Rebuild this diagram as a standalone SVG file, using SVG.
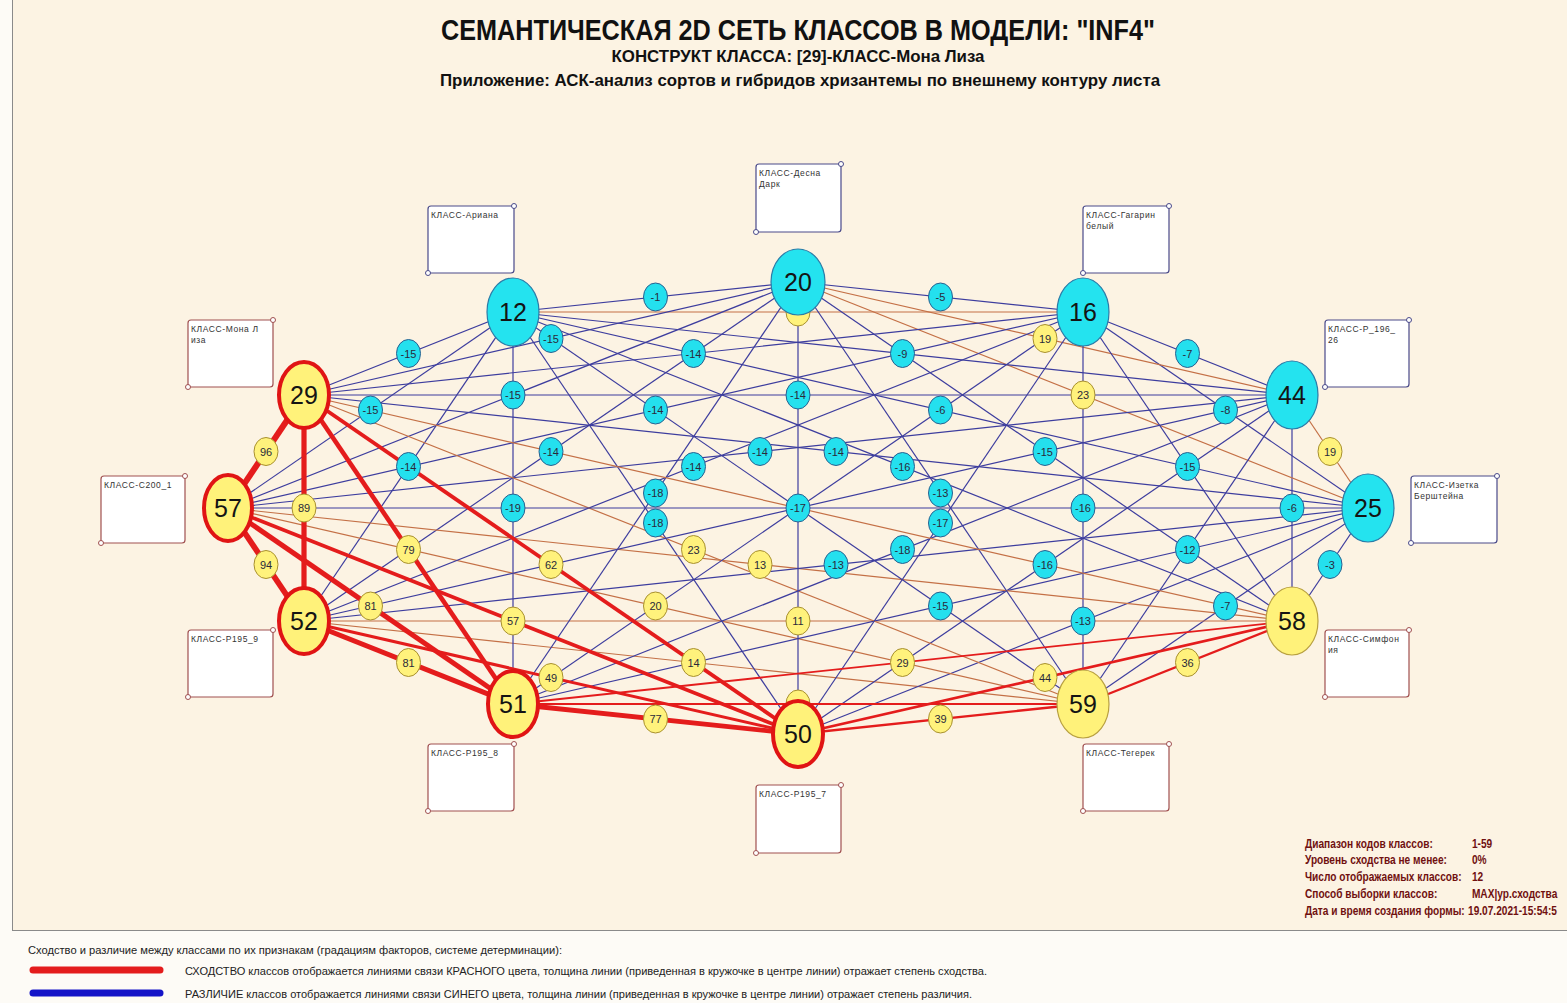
<svg xmlns="http://www.w3.org/2000/svg" width="1567" height="1003" viewBox="0 0 1567 1003">
<style>
.n{stroke:#3d3d9e;stroke-width:1.2;fill:none}
.p{stroke:#c47046;stroke-width:1.2;fill:none}
.r{stroke:#e41c1c;fill:none}
.lc{fill:#24e0ee;stroke:#2a6090;stroke-width:1}
.ly{fill:#fff27c;stroke:#a89030;stroke-width:1}
.lt{font-family:"Liberation Sans",Arial,sans-serif;font-size:11px;fill:#2a2a3a;text-anchor:middle}
.nc{fill:#24e3ef;stroke:#2a7ca8;stroke-width:1.2}
.ny{fill:#fff27a;stroke:#b8a040;stroke-width:1.2}
.nr{fill:#fff27a;stroke:#e01414;stroke-width:4}
.nt{font-family:"Liberation Sans",Arial,sans-serif;font-size:25px;fill:#141414;text-anchor:middle}
.bb{fill:#ffffff;stroke:#4a4a8a;stroke-width:1.2}
.br{fill:#ffffff;stroke:#a05050;stroke-width:1.2}
.db{fill:#ffffff;stroke:#4a4a8a;stroke-width:1}
.dr{fill:#ffffff;stroke:#a05050;stroke-width:1}
.bt{font-family:"Liberation Sans",Arial,sans-serif;font-size:8.5px;fill:#333;letter-spacing:0.6px}
.hd{font-family:"Liberation Sans",Arial,sans-serif;font-weight:bold;fill:#111;text-anchor:middle}
.lg{font-family:"Liberation Sans",Arial,sans-serif;font-size:11px;fill:#222}
.inf{font-family:"Liberation Sans",Arial,sans-serif;font-size:13px;font-weight:bold;fill:#701010}
</style>
<rect x="0" y="0" width="1567" height="1003" fill="#fdfbf6"/>
<rect x="13" y="0" width="1554" height="930" fill="#fcf3e3"/>
<line x1="12.5" y1="0" x2="12.5" y2="930" stroke="#8a8a8a" stroke-width="1"/>
<line x1="12" y1="930.5" x2="1567" y2="930.5" stroke="#8a8a8a" stroke-width="1"/>

<g id="title">
<text class="hd" x="798" y="40" font-size="29" textLength="714" lengthAdjust="spacingAndGlyphs">СЕМАНТИЧЕСКАЯ 2D СЕТЬ КЛАССОВ В МОДЕЛИ: "INF4"</text>
<text class="hd" x="798" y="62" font-size="17" textLength="373" lengthAdjust="spacingAndGlyphs">КОНСТРУКТ КЛАССА: [29]-КЛАСС-Мона Лиза</text>
<text class="hd" x="800" y="86" font-size="17" textLength="720" lengthAdjust="spacingAndGlyphs">Приложение: АСК-анализ  сортов и гибридов хризантемы по внешнему контуру листа</text>
</g>

<g id="connectors">
<line class="p" x1="1368" y1="508" x2="1292" y2="395"/>
<line class="n" x1="1292" y1="395" x2="1083" y2="312"/>
<line class="n" x1="1083" y1="312" x2="798" y2="282"/>
<line class="n" x1="798" y1="282" x2="513" y2="312"/>
<line class="n" x1="513" y1="312" x2="304" y2="395"/>
<line class="n" x1="1292" y1="621" x2="1368" y2="508"/>
<line class="n" x1="1368" y1="508" x2="1083" y2="312"/>
<line class="p" x1="1292" y1="395" x2="798" y2="282"/>
<line class="p" x1="1083" y1="312" x2="513" y2="312"/>
<line class="n" x1="798" y1="282" x2="304" y2="395"/>
<line class="n" x1="513" y1="312" x2="228" y2="508"/>
<line class="n" x1="1083" y1="704" x2="1368" y2="508"/>
<line class="n" x1="1292" y1="621" x2="1292" y2="395"/>
<line class="p" x1="1368" y1="508" x2="798" y2="282"/>
<line class="n" x1="1292" y1="395" x2="513" y2="312"/>
<line class="n" x1="1083" y1="312" x2="304" y2="395"/>
<line class="n" x1="798" y1="282" x2="228" y2="508"/>
<line class="n" x1="513" y1="312" x2="304" y2="621"/>
<line class="p" x1="304" y1="621" x2="1083" y2="704"/>
<line class="n" x1="798" y1="734" x2="1368" y2="508"/>
<line class="n" x1="1083" y1="704" x2="1292" y2="395"/>
<line class="n" x1="1292" y1="621" x2="1083" y2="312"/>
<line class="n" x1="1368" y1="508" x2="513" y2="312"/>
<line class="n" x1="1292" y1="395" x2="304" y2="395"/>
<line class="n" x1="1083" y1="312" x2="228" y2="508"/>
<line class="n" x1="798" y1="282" x2="304" y2="621"/>
<line class="n" x1="513" y1="312" x2="513" y2="704"/>
<line class="p" x1="228" y1="508" x2="1083" y2="704"/>
<line class="p" x1="304" y1="621" x2="1292" y2="621"/>
<line class="n" x1="513" y1="704" x2="1368" y2="508"/>
<line class="n" x1="798" y1="734" x2="1292" y2="395"/>
<line class="n" x1="1083" y1="704" x2="1083" y2="312"/>
<line class="n" x1="1292" y1="621" x2="798" y2="282"/>
<line class="n" x1="1368" y1="508" x2="304" y2="395"/>
<line class="n" x1="1292" y1="395" x2="228" y2="508"/>
<line class="n" x1="1083" y1="312" x2="304" y2="621"/>
<line class="n" x1="798" y1="282" x2="513" y2="704"/>
<line class="n" x1="513" y1="312" x2="798" y2="734"/>
<line class="p" x1="304" y1="395" x2="1083" y2="704"/>
<line class="p" x1="228" y1="508" x2="1292" y2="621"/>
<line class="n" x1="304" y1="621" x2="1368" y2="508"/>
<line class="n" x1="513" y1="704" x2="1292" y2="395"/>
<line class="n" x1="798" y1="734" x2="1083" y2="312"/>
<line class="n" x1="1083" y1="704" x2="798" y2="282"/>
<line class="n" x1="1292" y1="621" x2="513" y2="312"/>
<line class="n" x1="1368" y1="508" x2="228" y2="508" stroke-width="1.6"/>
<line class="n" x1="1292" y1="395" x2="304" y2="621"/>
<line class="n" x1="1083" y1="312" x2="513" y2="704"/>
<line class="n" x1="798" y1="282" x2="798" y2="734"/>
<line class="n" x1="513" y1="312" x2="1083" y2="704"/>
<line class="p" x1="304" y1="395" x2="1292" y2="621"/>
<line class="r" x1="513" y1="704" x2="1083" y2="704" stroke-width="2"/>
<line class="r" x1="513" y1="704" x2="1292" y2="621" stroke-width="1.8"/>
<line class="r" x1="1083" y1="704" x2="1292" y2="621" stroke-width="2.3"/>
<line class="r" x1="798" y1="734" x2="1083" y2="704" stroke-width="2.4"/>
<line class="r" x1="798" y1="734" x2="1292" y2="621" stroke-width="2.7"/>
<line class="r" x1="304" y1="621" x2="798" y2="734" stroke-width="3"/>
<line class="r" x1="228" y1="508" x2="798" y2="734" stroke-width="3.6"/>
<line class="r" x1="304" y1="395" x2="798" y2="734" stroke-width="3.9"/>
<line class="r" x1="513" y1="704" x2="798" y2="734" stroke-width="4.8"/>
<line class="r" x1="304" y1="395" x2="513" y2="704" stroke-width="4.6"/>
<line class="r" x1="228" y1="508" x2="513" y2="704" stroke-width="5"/>
<line class="r" x1="304" y1="621" x2="513" y2="704" stroke-width="5"/>
<line class="r" x1="304" y1="395" x2="304" y2="621" stroke-width="5.2"/>
<line class="r" x1="228" y1="508" x2="304" y2="621" stroke-width="5.8"/>
<line class="r" x1="304" y1="395" x2="228" y2="508" stroke-width="6"/>
</g>

<g id="edge-labels">
<ellipse class="ly" cx="798" cy="312" rx="12" ry="14"/>
<ellipse class="ly" cx="798" cy="704" rx="12" ry="14"/>
<ellipse class="ly" cx="1330" cy="451.5" rx="12" ry="14"/><text class="lt" x="1330" y="455.5">19</text>
<ellipse class="lc" cx="1187.5" cy="353.5" rx="12" ry="14"/><text class="lt" x="1187.5" y="357.5">-7</text>
<ellipse class="lc" cx="940.5" cy="297" rx="12" ry="14"/><text class="lt" x="940.5" y="301">-5</text>
<ellipse class="lc" cx="655.5" cy="297" rx="12" ry="14"/><text class="lt" x="655.5" y="301">-1</text>
<ellipse class="lc" cx="408.5" cy="353.5" rx="12" ry="14"/><text class="lt" x="408.5" y="357.5">-15</text>
<ellipse class="ly" cx="266" cy="451.5" rx="12" ry="14"/><text class="lt" x="266" y="455.5">96</text>
<ellipse class="ly" cx="266" cy="564.5" rx="12" ry="14"/><text class="lt" x="266" y="568.5">94</text>
<ellipse class="ly" cx="408.5" cy="662.5" rx="12" ry="14"/><text class="lt" x="408.5" y="666.5">81</text>
<ellipse class="ly" cx="655.5" cy="719" rx="12" ry="14"/><text class="lt" x="655.5" y="723">77</text>
<ellipse class="ly" cx="940.5" cy="719" rx="12" ry="14"/><text class="lt" x="940.5" y="723">39</text>
<ellipse class="ly" cx="1187.5" cy="662.5" rx="12" ry="14"/><text class="lt" x="1187.5" y="666.5">36</text>
<ellipse class="lc" cx="1330" cy="564.5" rx="12" ry="14"/><text class="lt" x="1330" y="568.5">-3</text>
<ellipse class="lc" cx="1225.5" cy="410" rx="12" ry="14"/><text class="lt" x="1225.5" y="414">-8</text>
<ellipse class="ly" cx="1045" cy="338.5" rx="12" ry="14"/><text class="lt" x="1045" y="342.5">19</text>
<ellipse class="lc" cx="551" cy="338.5" rx="12" ry="14"/><text class="lt" x="551" y="342.5">-15</text>
<ellipse class="lc" cx="370.5" cy="410" rx="12" ry="14"/><text class="lt" x="370.5" y="414">-15</text>
<ellipse class="ly" cx="304" cy="508" rx="12" ry="14"/><text class="lt" x="304" y="512">89</text>
<ellipse class="ly" cx="370.5" cy="606" rx="12" ry="14"/><text class="lt" x="370.5" y="610">81</text>
<ellipse class="ly" cx="551" cy="677.5" rx="12" ry="14"/><text class="lt" x="551" y="681.5">49</text>
<ellipse class="ly" cx="1045" cy="677.5" rx="12" ry="14"/><text class="lt" x="1045" y="681.5">44</text>
<ellipse class="lc" cx="1225.5" cy="606" rx="12" ry="14"/><text class="lt" x="1225.5" y="610">-7</text>
<ellipse class="lc" cx="1292" cy="508" rx="12" ry="14"/><text class="lt" x="1292" y="512">-6</text>
<ellipse class="ly" cx="1083" cy="395" rx="12" ry="14"/><text class="lt" x="1083" y="399">23</text>
<ellipse class="lc" cx="902.5" cy="353.5" rx="12" ry="14"/><text class="lt" x="902.5" y="357.5">-9</text>
<ellipse class="lc" cx="693.5" cy="353.5" rx="12" ry="14"/><text class="lt" x="693.5" y="357.5">-14</text>
<ellipse class="lc" cx="513" cy="395" rx="12" ry="14"/><text class="lt" x="513" y="399">-15</text>
<ellipse class="lc" cx="408.5" cy="466.5" rx="12" ry="14"/><text class="lt" x="408.5" y="470.5">-14</text>
<ellipse class="ly" cx="408.5" cy="549.5" rx="12" ry="14"/><text class="lt" x="408.5" y="553.5">79</text>
<ellipse class="ly" cx="513" cy="621" rx="12" ry="14"/><text class="lt" x="513" y="625">57</text>
<ellipse class="ly" cx="693.5" cy="662.5" rx="12" ry="14"/><text class="lt" x="693.5" y="666.5">14</text>
<ellipse class="ly" cx="902.5" cy="662.5" rx="12" ry="14"/><text class="lt" x="902.5" y="666.5">29</text>
<ellipse class="lc" cx="1083" cy="621" rx="12" ry="14"/><text class="lt" x="1083" y="625">-13</text>
<ellipse class="lc" cx="1187.5" cy="549.5" rx="12" ry="14"/><text class="lt" x="1187.5" y="553.5">-12</text>
<ellipse class="lc" cx="1187.5" cy="466.5" rx="12" ry="14"/><text class="lt" x="1187.5" y="470.5">-15</text>
<ellipse class="lc" cx="940.5" cy="410" rx="12" ry="14"/><text class="lt" x="940.5" y="414">-6</text>
<ellipse class="lc" cx="798" cy="395" rx="12" ry="14"/><text class="lt" x="798" y="399">-14</text>
<ellipse class="lc" cx="655.5" cy="410" rx="12" ry="14"/><text class="lt" x="655.5" y="414">-14</text>
<ellipse class="lc" cx="551" cy="451.5" rx="12" ry="14"/><text class="lt" x="551" y="455.5">-14</text>
<ellipse class="lc" cx="513" cy="508" rx="12" ry="14"/><text class="lt" x="513" y="512">-19</text>
<ellipse class="ly" cx="551" cy="564.5" rx="12" ry="14"/><text class="lt" x="551" y="568.5">62</text>
<ellipse class="ly" cx="655.5" cy="606" rx="12" ry="14"/><text class="lt" x="655.5" y="610">20</text>
<ellipse class="ly" cx="798" cy="621" rx="12" ry="14"/><text class="lt" x="798" y="625">11</text>
<ellipse class="lc" cx="940.5" cy="606" rx="12" ry="14"/><text class="lt" x="940.5" y="610">-15</text>
<ellipse class="lc" cx="1045" cy="564.5" rx="12" ry="14"/><text class="lt" x="1045" y="568.5">-16</text>
<ellipse class="lc" cx="1083" cy="508" rx="12" ry="14"/><text class="lt" x="1083" y="512">-16</text>
<ellipse class="lc" cx="1045" cy="451.5" rx="12" ry="14"/><text class="lt" x="1045" y="455.5">-15</text>
<ellipse class="lc" cx="836" cy="451.5" rx="12" ry="14"/><text class="lt" x="836" y="455.5">-14</text>
<ellipse class="lc" cx="760" cy="451.5" rx="12" ry="14"/><text class="lt" x="760" y="455.5">-14</text>
<ellipse class="lc" cx="693.5" cy="466.5" rx="12" ry="14"/><text class="lt" x="693.5" y="470.5">-14</text>
<ellipse class="lc" cx="655.5" cy="493" rx="12" ry="14"/><text class="lt" x="655.5" y="497">-18</text>
<ellipse class="lc" cx="655.5" cy="523" rx="12" ry="14"/><text class="lt" x="655.5" y="527">-18</text>
<ellipse class="ly" cx="693.5" cy="549.5" rx="12" ry="14"/><text class="lt" x="693.5" y="553.5">23</text>
<ellipse class="ly" cx="760" cy="564.5" rx="12" ry="14"/><text class="lt" x="760" y="568.5">13</text>
<ellipse class="lc" cx="836" cy="564.5" rx="12" ry="14"/><text class="lt" x="836" y="568.5">-13</text>
<ellipse class="lc" cx="902.5" cy="549.5" rx="12" ry="14"/><text class="lt" x="902.5" y="553.5">-18</text>
<ellipse class="lc" cx="940.5" cy="523" rx="12" ry="14"/><text class="lt" x="940.5" y="527">-17</text>
<ellipse class="lc" cx="940.5" cy="493" rx="12" ry="14"/><text class="lt" x="940.5" y="497">-13</text>
<ellipse class="lc" cx="902.5" cy="466.5" rx="12" ry="14"/><text class="lt" x="902.5" y="470.5">-16</text>
<ellipse class="lc" cx="798" cy="508" rx="12" ry="14"/><text class="lt" x="798" y="512">-17</text>
</g>

<g id="node-25"><ellipse class="nc" cx="1368" cy="508" rx="26" ry="34"/><text class="nt" x="1368" y="517">25</text></g>
<g id="node-44"><ellipse class="nc" cx="1292" cy="395" rx="26" ry="34"/><text class="nt" x="1292" y="404">44</text></g>
<g id="node-16"><ellipse class="nc" cx="1083" cy="312" rx="26" ry="34"/><text class="nt" x="1083" y="321">16</text></g>
<g id="node-20"><ellipse class="nc" cx="798" cy="282" rx="27" ry="33"/><text class="nt" x="798" y="291">20</text></g>
<g id="node-12"><ellipse class="nc" cx="513" cy="312" rx="26" ry="34"/><text class="nt" x="513" y="321">12</text></g>
<g id="node-29"><ellipse class="nr" cx="304" cy="395" rx="25" ry="33"/><text class="nt" x="304" y="404">29</text></g>
<g id="node-57"><ellipse class="nr" cx="228" cy="508" rx="24" ry="33"/><text class="nt" x="228" y="517">57</text></g>
<g id="node-52"><ellipse class="nr" cx="304" cy="621" rx="25" ry="33"/><text class="nt" x="304" y="630">52</text></g>
<g id="node-51"><ellipse class="nr" cx="513" cy="704" rx="25" ry="33"/><text class="nt" x="513" y="713">51</text></g>
<g id="node-50"><ellipse class="nr" cx="798" cy="734" rx="25" ry="33" stroke-width="3"/><text class="nt" x="798" y="743">50</text></g>
<g id="node-59"><ellipse class="ny" cx="1083" cy="704" rx="26" ry="34"/><text class="nt" x="1083" y="713">59</text></g>
<g id="node-58"><ellipse class="ny" cx="1292" cy="621" rx="26" ry="34"/><text class="nt" x="1292" y="630">58</text></g>

<g id="box-12"><rect class="bb" x="428" y="206" width="86" height="67" rx="3"/><circle class="db" cx="514" cy="206" r="2.5"/><circle class="db" cx="428" cy="273" r="2.5"/><text class="bt" x="431" y="218">КЛАСС-Ариана</text></g>
<g id="box-20"><rect class="bb" x="756" y="164" width="85" height="68" rx="3"/><circle class="db" cx="841" cy="164" r="2.5"/><circle class="db" cx="756" cy="232" r="2.5"/><text class="bt" x="759" y="176">КЛАСС-Десна</text><text class="bt" x="759" y="187">Дарк</text></g>
<g id="box-16"><rect class="bb" x="1083" y="206" width="86" height="67" rx="3"/><circle class="db" cx="1169" cy="206" r="2.5"/><circle class="db" cx="1083" cy="273" r="2.5"/><text class="bt" x="1086" y="218">КЛАСС-Гагарин</text><text class="bt" x="1086" y="229">белый</text></g>
<g id="box-44"><rect class="bb" x="1325" y="320" width="84" height="67" rx="3"/><circle class="db" cx="1409" cy="320" r="2.5"/><circle class="db" cx="1325" cy="387" r="2.5"/><text class="bt" x="1328" y="332">КЛАСС-Р_196_</text><text class="bt" x="1328" y="343">26</text></g>
<g id="box-25"><rect class="bb" x="1411" y="476" width="86" height="67" rx="3"/><circle class="db" cx="1497" cy="476" r="2.5"/><circle class="db" cx="1411" cy="543" r="2.5"/><text class="bt" x="1414" y="488">КЛАСС-Изетка</text><text class="bt" x="1414" y="499">Берштейна</text></g>
<g id="box-58"><rect class="br" x="1325" y="630" width="84" height="67" rx="3"/><circle class="dr" cx="1409" cy="630" r="2.5"/><circle class="dr" cx="1325" cy="697" r="2.5"/><text class="bt" x="1328" y="642">КЛАСС-Симфон</text><text class="bt" x="1328" y="653">ия</text></g>
<g id="box-59"><rect class="br" x="1083" y="744" width="86" height="67" rx="3"/><circle class="dr" cx="1169" cy="744" r="2.5"/><circle class="dr" cx="1083" cy="811" r="2.5"/><text class="bt" x="1086" y="756">КЛАСС-Тегерек</text></g>
<g id="box-50"><rect class="br" x="756" y="785" width="85" height="68" rx="3"/><circle class="dr" cx="841" cy="785" r="2.5"/><circle class="dr" cx="756" cy="853" r="2.5"/><text class="bt" x="759" y="797">КЛАСС-Р195_7</text></g>
<g id="box-51"><rect class="br" x="428" y="744" width="86" height="67" rx="3"/><circle class="dr" cx="514" cy="744" r="2.5"/><circle class="dr" cx="428" cy="811" r="2.5"/><text class="bt" x="431" y="756">КЛАСС-Р195_8</text></g>
<g id="box-52"><rect class="br" x="188" y="630" width="85" height="67" rx="3"/><circle class="dr" cx="273" cy="630" r="2.5"/><circle class="dr" cx="188" cy="697" r="2.5"/><text class="bt" x="191" y="642">КЛАСС-Р195_9</text></g>
<g id="box-57"><rect class="br" x="101" y="476" width="84" height="67" rx="3"/><circle class="dr" cx="185" cy="476" r="2.5"/><circle class="dr" cx="101" cy="543" r="2.5"/><text class="bt" x="104" y="488">КЛАСС-С200_1</text></g>
<g id="box-29"><rect class="br" x="188" y="320" width="85" height="67" rx="3"/><circle class="dr" cx="273" cy="320" r="2.5"/><circle class="dr" cx="188" cy="387" r="2.5"/><text class="bt" x="191" y="332">КЛАСС-Мона Л</text><text class="bt" x="191" y="343">иза</text></g>

<g id="info" transform="translate(1305,0) scale(0.78,1)">
<text class="inf" x="0" y="848">Диапазон кодов классов:</text>
<text class="inf" x="214" y="848">1-59</text>
<text class="inf" x="0" y="864">Уровень сходства не менее:</text>
<text class="inf" x="214" y="864">0%</text>
<text class="inf" x="0" y="881">Число отображаемых классов:</text>
<text class="inf" x="214" y="881">12</text>
<text class="inf" x="0" y="898">Способ выборки классов:</text>
<text class="inf" x="214" y="898">MAX|ур.сходства</text>
<text class="inf" x="0" y="915">Дата и время создания формы:</text>
<text class="inf" x="209" y="915">19.07.2021-15:54:5</text>
</g>

<g id="legend">
<text class="lg" x="28" y="954" textLength="534" lengthAdjust="spacingAndGlyphs">Сходство и различие между классами по их признакам (градациям факторов, системе детерминации):</text>
<line x1="33" y1="970" x2="160" y2="970" stroke="#e41c1c" stroke-width="7" stroke-linecap="round"/>
<text class="lg" x="185" y="975" textLength="802" lengthAdjust="spacingAndGlyphs">СХОДСТВО классов отображается линиями связи КРАСНОГО цвета, толщина линии (приведенная в кружочке в центре линии) отражает степень сходства.</text>
<line x1="33" y1="993" x2="160" y2="993" stroke="#1414c8" stroke-width="7" stroke-linecap="round"/>
<text class="lg" x="185" y="998" textLength="787" lengthAdjust="spacingAndGlyphs">РАЗЛИЧИЕ классов отображается линиями связи СИНЕГО цвета, толщина линии  (приведенная в кружочке в центре линии) отражает степень различия.</text>
</g>
</svg>
